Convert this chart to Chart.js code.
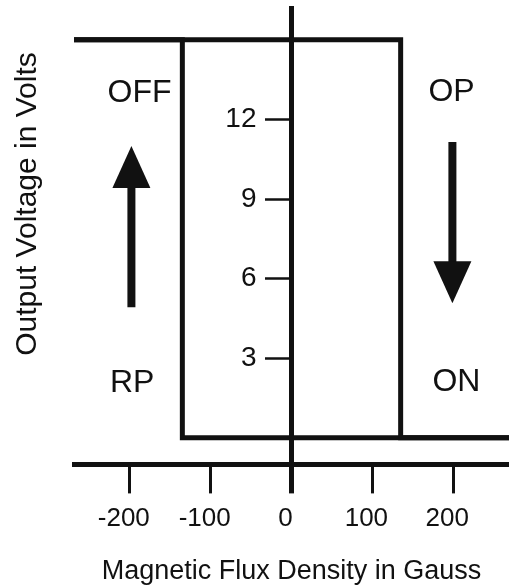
<!doctype html>
<html lang="en">
<head>
<meta charset="utf-8">
<title>Hall switch hysteresis</title>
<style>
  * { margin: 0; padding: 0; }
  body { background: #fff; }
  .chartBox { width: 509px; height: 588px; }
</style>
</head>
<body>
<div class="chartBox"><canvas id="myChart"></canvas></div>
<script src="https://cdn.jsdelivr.net/npm/chart.js@4/dist/chart.umd.min.js"></script>
<script>
// setup
const operateFlux = [-269, 135, 135, 269];
const operateVolts = [15, 15, 0, 0];
const releaseFlux = [269, -135, -135, -269];
const releaseVolts = [0, 0, 15, 15];
const fluxTicks = [-200, -100, 0, 100, 200];
const voltTicks = [3, 6, 9, 12];
const stateNames = ['OFF', 'OP', 'RP', 'ON'];

const ink = '#111';
const family = '"Liberation Sans", Arial, Helvetica, sans-serif';
Chart.defaults.font.family = family;

const toPoints = (xs, ys) => xs.map((v, i) => ({ x: v, y: ys[i] }));

// arrow helper, shaft + filled head
function drawArrow(ctx, px, fromY, toY) {
  const dir = Math.sign(toY - fromY);
  const baseY = toY - dir * 42;
  ctx.lineWidth = 8;
  ctx.beginPath();
  ctx.moveTo(px, fromY);
  ctx.lineTo(px, baseY + dir * 2);
  ctx.stroke();
  ctx.beginPath();
  ctx.moveTo(px, toY);
  ctx.lineTo(px - 19, baseY);
  ctx.lineTo(px + 19, baseY);
  ctx.closePath();
  ctx.fill();
}

// state labels + arrows plugin block
const switchStates = {
  id: 'switchStates',
  afterDatasetsDraw(chart) {
    const { ctx, scales: { x, y } } = chart;
    const spots = [[-188, 12.98], [198, 13.03], [-197, 2.06], [204, 2.09]];
    ctx.save();
    ctx.fillStyle = ink;
    ctx.strokeStyle = ink;
    ctx.font = '32px ' + family;
    ctx.textAlign = 'center';
    ctx.textBaseline = 'middle';
    stateNames.forEach((name, i) => {
      ctx.fillText(name, x.getPixelForValue(spots[i][0]), y.getPixelForValue(spots[i][1]));
    });
    drawArrow(ctx, x.getPixelForValue(-198), y.getPixelForValue(4.92), y.getPixelForValue(11));
    drawArrow(ctx, x.getPixelForValue(199), y.getPixelForValue(11.15), y.getPixelForValue(5.07));
    ctx.restore();
  }
};

// y title sits far left, away from the centred axis
const sideTitle = {
  id: 'sideTitle',
  afterDraw(chart) {
    const { ctx } = chart;
    ctx.save();
    ctx.translate(28, 204);
    ctx.rotate(-Math.PI / 2);
    ctx.font = '30px ' + family;
    ctx.fillStyle = ink;
    ctx.textAlign = 'center';
    ctx.textBaseline = 'middle';
    ctx.fillText('Output Voltage in Volts', 0, 0);
    ctx.restore();
  }
};

const config = {
  type: 'scatter',
  data: {
    datasets: [
      { label: 'Operate', data: toPoints(operateFlux, operateVolts) },
      { label: 'Release', data: toPoints(releaseFlux, releaseVolts) }
    ].map(ds => Object.assign(ds, {
      showLine: true,
      borderColor: ink,
      borderWidth: 5,
      borderJoinStyle: 'miter',
      pointRadius: 0,
      fill: false
    }))
  },
  options: {
    responsive: true,
    maintainAspectRatio: false,
    animation: false,
    layout: { padding: { left: 74, top: 8, right: 0, bottom: 0 } },
    scales: {
      x: {
        type: 'linear',
        position: 'bottom',
        min: -269,
        max: 269,
        afterBuildTicks: (s) => { s.ticks = fluxTicks.map(v => ({ value: v })); },
        afterFit: (s) => { s.paddingLeft = 0; s.paddingRight = 0; },
        border: { display: true, color: ink, width: 5 },
        grid: {
          drawOnChartArea: false,
          tickLength: 29,
          tickColor: ink,
          tickWidth: (c) => (c.tick && c.tick.value === 0 ? 5 : 3)
        },
        ticks: { color: ink, padding: 10, labelOffset: -6, maxRotation: 0, font: { size: 26 } },
        title: {
          display: true,
          text: 'Magnetic Flux Density in Gauss',
          color: ink,
          font: { size: 27 },
          padding: { top: 11, bottom: 0 }
        }
      },
      y: {
        type: 'linear',
        position: 'center',
        min: -1,
        max: 16.2,
        afterBuildTicks: (s) => { s.ticks = voltTicks.map(v => ({ value: v })); },
        afterFit: (s) => { s.paddingTop = 0; s.paddingBottom = 0; },
        border: { display: true, color: ink, width: 5 },
        grid: { drawOnChartArea: false, tickLength: 24, tickColor: ink, tickWidth: 2.5 },
        ticks: { color: ink, padding: 11, font: { size: 28 } }
      }
    },
    plugins: {
      legend: { display: false },
      tooltip: { enabled: false }
    }
  },
  plugins: [switchStates, sideTitle]
};

const myChart = new Chart(document.getElementById('myChart'), config);
</script>
</body>
</html>
